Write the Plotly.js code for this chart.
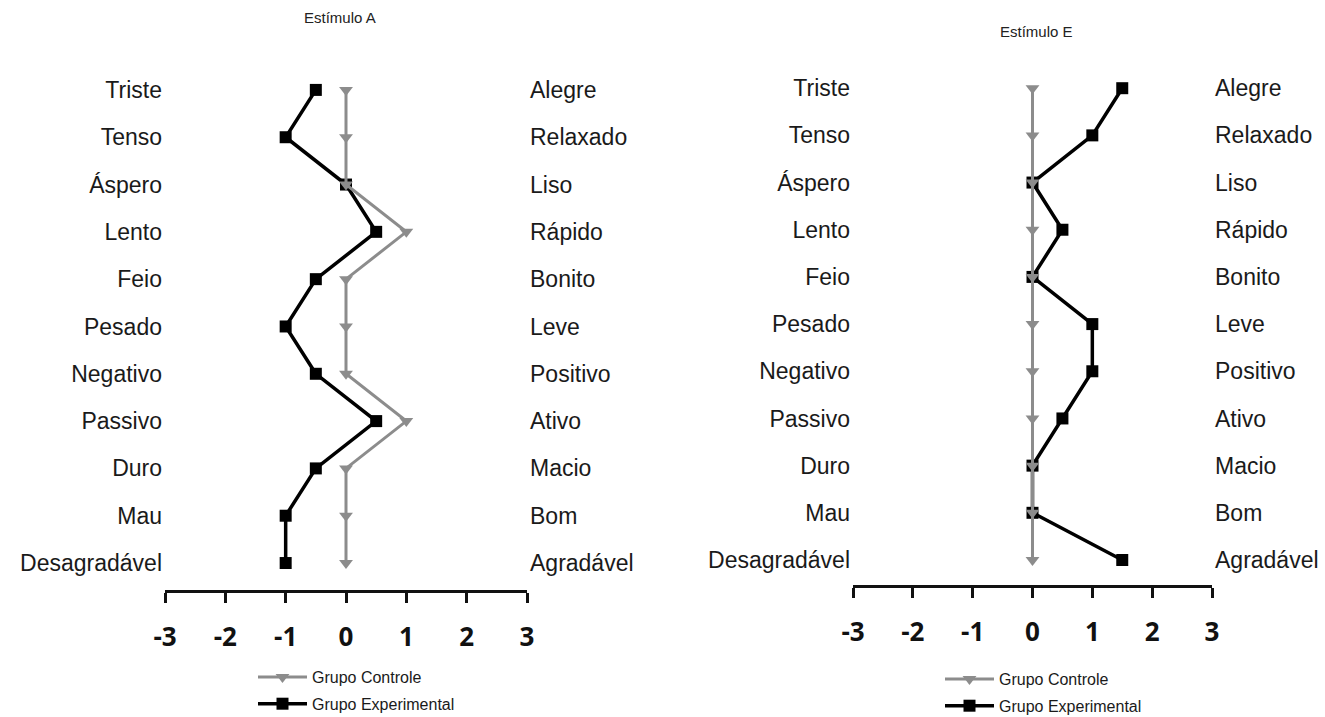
<!DOCTYPE html>
<html>
<head>
<meta charset="utf-8">
<script src="https://cdn.plot.ly/plotly-3.0.1.min.js"></script>
<style>html,body{margin:0;padding:0;background:#fff;}#chart{width:1325px;height:717px;}</style>
</head>
<body>
<div id="chart"></div>
<script>
// ---- data ----
const negativeAdjectives = ['Triste','Tenso','Áspero','Lento','Feio','Pesado','Negativo','Passivo','Duro','Mau','Desagradável'];
const positiveAdjectives = ['Alegre','Relaxado','Liso','Rápido','Bonito','Leve','Positivo','Ativo','Macio','Bom','Agradável'];
const controlA      = [0, 0, 0, 1, 0, 0, 0, 1, 0, 0, 0];
const experimentalA = [-0.5, -1, 0, 0.5, -0.5, -1, -0.5, 0.5, -0.5, -1, -1];
const controlE      = [0, 0, 0, 0, 0, 0, 0, 0, 0, 0, 0];
const experimentalE = [1.5, 1, 0, 0.5, 0, 1, 1, 0.5, 0, 0, 1.5];
const xTicks = [-3, -2, -1, 0, 1, 2, 3];
const titles = ['Estímulo A', 'Estímulo E'];
const seriesNames = ['Grupo Controle', 'Grupo Experimental'];

// ---- styling ----
const W = 1325, H = 717;
const gray = '#8c8c8c', black = '#000000';
const rowIdx = negativeAdjectives.map((_, i) => i);
const px = p => p / W;
const py = p => 1 - p / H;

function expTrace(x, xa, ya, leg) {
  return {x: x, y: rowIdx, xaxis: xa, yaxis: ya, name: seriesNames[1], legend: leg, legendrank: 2,
    legendgroup: leg + 'e', mode: 'lines+markers', type: 'scatter', cliponaxis: false,
    line: {color: black, width: 3.5}, marker: {symbol: 'square', size: 12, color: black}, hoverinfo: 'skip'};
}
function ctlTrace(x, xa, ya, leg) {
  return {x: x, y: rowIdx, xaxis: xa, yaxis: ya, name: seriesNames[0], legend: leg, legendrank: 1,
    legendgroup: leg + 'c', mode: 'lines+markers', type: 'scatter', cliponaxis: false,
    line: {color: gray, width: 3}, marker: {symbol: 'triangle-down', size: 12, color: gray}, hoverinfo: 'skip'};
}
function ghost(x, xa, ya) {
  return {x: x, y: rowIdx, xaxis: xa, yaxis: ya, mode: 'markers', type: 'scatter', showlegend: false,
    marker: {opacity: 0}, hoverinfo: 'skip'};
}

const data = [
  expTrace(experimentalA, 'x', 'y', 'legend'),
  ctlTrace(controlA, 'x', 'y', 'legend'),
  ghost(controlA, 'x', 'y2'),
  expTrace(experimentalE, 'x2', 'y3', 'legend2'),
  ctlTrace(controlE, 'x2', 'y3', 'legend2'),
  ghost(controlE, 'x2', 'y4')
];

const labelFont = {family: 'Liberation Sans, Arial, sans-serif', size: 23, color: '#1a1a1a'};
const tickFont = {family: 'Open Sans, sans-serif', size: 26, color: '#111', weight: 'bold'};

function xAxis(domain, yanchor) {
  return {domain: domain, anchor: yanchor, range: [-3, 3], tickvals: xTicks, ticktext: xTicks.map(String),
    showgrid: false, zeroline: false, showline: true, linecolor: '#111', linewidth: 3,
    ticks: 'outside', ticklen: 10, tickwidth: 3, tickcolor: '#111', tickfont: tickFont,
    ticklabelstandoff: 12, fixedrange: true};
}
function yAxis(domain, range, xanchor, side, labels, overlay) {
  const a = {domain: domain, anchor: xanchor, side: side, range: range, tickvals: rowIdx, ticktext: labels,
    showgrid: false, zeroline: false, showline: false, ticks: '', tickfont: labelFont,
    ticklabelstandoff: 2, fixedrange: true};
  if (overlay) a.overlaying = overlay;
  return a;
}

const leftYDomain = [py(590), py(62)];
const leftRange = [10.57, -0.59];
const rightYDomain = [py(585), py(58)];
const rightRange = [10.53, -0.64];

const legendBase = {font: {family: 'Liberation Sans, Arial, sans-serif', size: 16, color: '#1a1a1a'},
  bgcolor: 'rgba(0,0,0,0)', tracegroupgap: 3, xanchor: 'left', yanchor: 'top', itemwidth: 49};

const layout = {
  width: W, height: H,
  margin: {l: 0, r: 0, t: 0, b: 0, autoexpand: false},
  paper_bgcolor: '#fff', plot_bgcolor: '#fff',
  showlegend: true,
  xaxis: xAxis([px(165), px(527)], 'y'),
  yaxis: yAxis(leftYDomain, leftRange, 'x', 'left', negativeAdjectives),
  yaxis2: yAxis(leftYDomain, leftRange, 'x', 'right', positiveAdjectives, 'y'),
  xaxis2: xAxis([px(853), px(1212)], 'y3'),
  yaxis3: yAxis(rightYDomain, rightRange, 'x2', 'left', negativeAdjectives),
  yaxis4: yAxis(rightYDomain, rightRange, 'x2', 'right', positiveAdjectives, 'y3'),
  legend: Object.assign({}, legendBase, {x: px(253), y: py(660)}),
  legend2: Object.assign({}, legendBase, {x: px(940), y: py(662)}),
  annotations: [
    {text: titles[0], xref: 'paper', yref: 'paper', x: px(340), y: py(18), xanchor: 'center', yanchor: 'middle',
      showarrow: false, font: {family: 'Liberation Sans, Arial, sans-serif', size: 15, color: '#222'}},
    {text: titles[1], xref: 'paper', yref: 'paper', x: px(1036), y: py(31), xanchor: 'center', yanchor: 'middle',
      showarrow: false, font: {family: 'Liberation Sans, Arial, sans-serif', size: 15, color: '#222'}}
  ]
};

Plotly.newPlot('chart', data, layout, {displayModeBar: false, staticPlot: true});
</script>
</body>
</html>
